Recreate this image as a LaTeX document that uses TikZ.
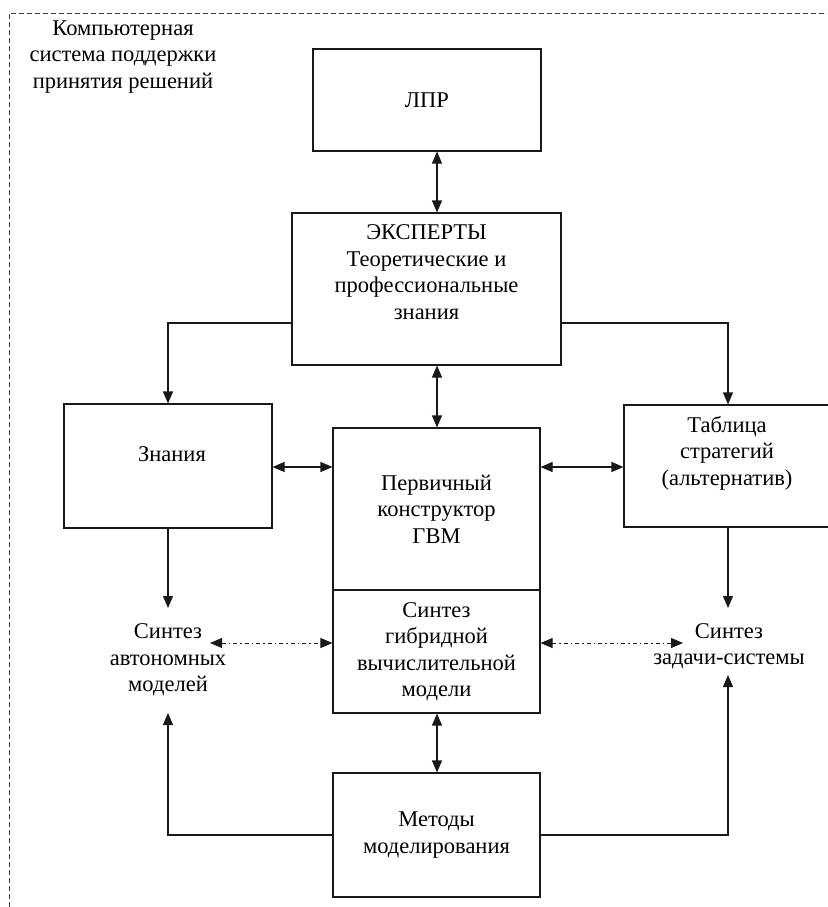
\documentclass[tikz,border=0pt]{standalone}
\usepackage{fontspec}
\setmainfont{Liberation Serif}
\usetikzlibrary{arrows.meta}
\begin{document}
\begin{tikzpicture}[x=1pt,y=-1pt,
  box/.style={draw=black!90, line width=1.1pt, inner sep=0pt, align=center,
    font=\fontsize{22.5}{26.5}\selectfont},
  txt/.style={inner sep=0pt, align=center, font=\fontsize{22.5}{26.5}\selectfont},
  line/.style={draw=black!90, line width=1.1pt},
  arr/.style={line, -{Triangle[length=12pt,width=10pt]}},
  barr/.style={line, {Triangle[length=12pt,width=10pt]}-{Triangle[length=12pt,width=10pt]}},
  dashdotarr/.style={draw=black!90, line width=1pt, dash pattern=on 4pt off 3pt on 1.5pt off 3pt,
    {Triangle[length=12pt,width=10pt]}-{Triangle[length=12pt,width=10pt]}},
  frame/.style={draw=black!75, line width=0.9pt, dash pattern=on 5pt off 3pt}
]
\useasboundingbox (0,0) rectangle (827,907);

% dashed frame of the system
\draw[frame] (9,907) -- (9,13) -- (827,13);

% title
\node[txt] (title) at (123,57) {Компьютерная\\система поддержки\\принятия решений};

% boxes
\node[box, minimum width=228pt, minimum height=102pt] (lpr) at (427,100) {ЛПР};
\node[box, minimum width=269pt, minimum height=152pt] (exp) at (426.5,289) {};
\node[txt] (expt) at (426.5,272) {ЭКСПЕРТЫ\\Теоретические и\\профессиональные\\знания};
\node[box, minimum width=208pt, minimum height=124pt] (zn) at (168,466) {};
\node[txt] (znt) at (172,454) {Знания};
\node[box, minimum width=207pt, minimum height=122pt] (tab) at (727.5,466) {};
\node[txt] (tabt) at (727,453) {Таблица\\стратегий\\(альтернатив)};
\node[box, minimum width=207pt, minimum height=162pt] (per) at (436.5,509) {Первичный\\конструктор\\ГВМ};
\node[box, minimum width=207pt, minimum height=123pt] (syn) at (436.5,651.5) {Синтез\\гибридной\\вычислительной\\модели};
\node[box, minimum width=207pt, minimum height=124pt] (met) at (436.5,835) {Методы\\моделирования};

% free-standing labels
\node[txt] (aut) at (168,660) {Синтез\\автономных\\моделей};
\node[txt] (task) at (729,646) {Синтез\\задачи-системы};

% helper coordinates
\coordinate (cx) at (437,0);
\coordinate (rx) at (728,0);
\coordinate (ly) at (0,323);
\coordinate (my) at (0,467);
\coordinate (a1) at (168,608);
\coordinate (a2) at (168,713);
\coordinate (t1) at (728,608);
\coordinate (t2) at (728,675);
\coordinate (d1) at (210,643);
\coordinate (d2) at (683,643);

% connectors
\draw[barr] (lpr.south -| cx) -- (exp.north -| cx);
\draw[barr] (exp.south -| cx) -- (per.north -| cx);
\draw[arr] (exp.west |- ly) -| (zn.north);
\draw[arr] (exp.east |- ly) -| (tab.north -| rx);
\draw[barr] (zn.east |- my) -- (per.west |- my);
\draw[barr] (per.east |- my) -- (tab.west |- my);
\draw[arr] (zn.south) -- (a1);
\draw[arr] (tab.south -| rx) -- (t1);
\draw[dashdotarr] (d1) -- (syn.west |- d1);
\draw[dashdotarr] (syn.east |- d2) -- (d2);
\draw[barr] (syn.south -| cx) -- (met.north -| cx);
\draw[arr] (met.west) -| (a2);
\draw[arr] (met.east) -| (t2);
\end{tikzpicture}
\end{document}
